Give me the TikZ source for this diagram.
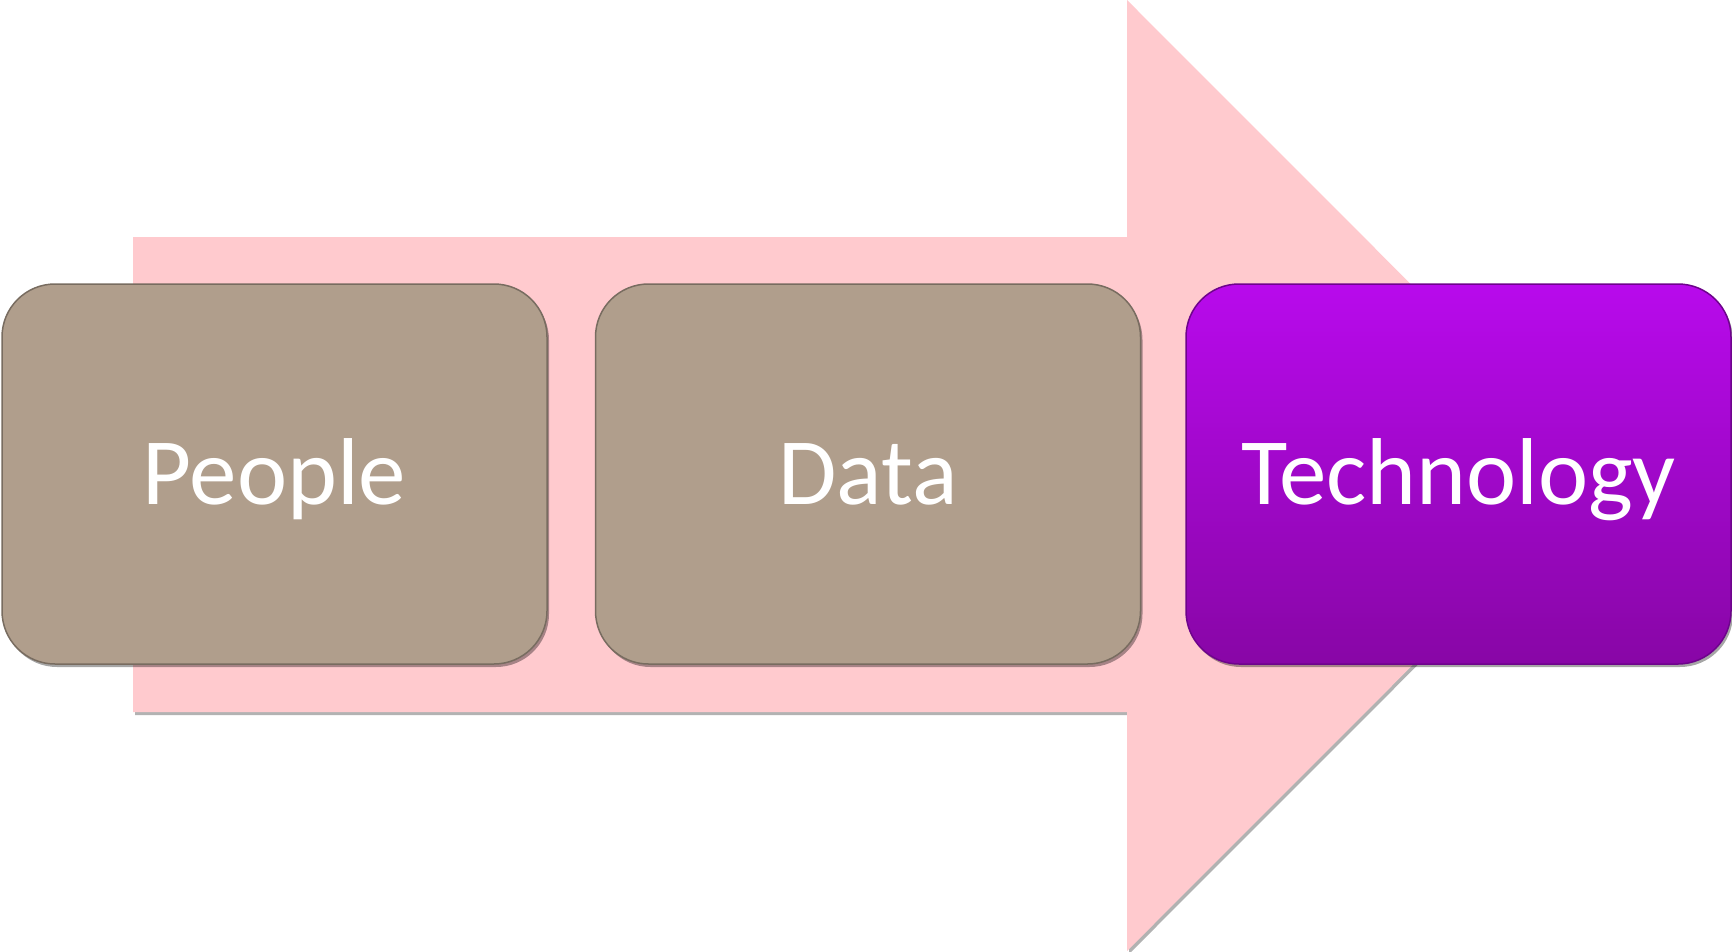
\documentclass[tikz,border=0pt]{standalone}
\usepackage{fontspec}
\setmainfont{Carlito}
\usetikzlibrary{shadows}
\definecolor{arrowpink}{RGB}{255,202,206}
\definecolor{taupe}{RGB}{176,158,140}
\definecolor{taupeedge}{RGB}{120,108,96}
\definecolor{purtop}{RGB}{184,10,236}
\definecolor{purbot}{RGB}{136,6,166}
\definecolor{puredge}{RGB}{110,4,140}
\tikzset{
  stagebox/.style={rounded corners=53pt, minimum width=545pt, minimum height=380pt,
    inner sep=0pt, text=white, font=\fontsize{95}{110}\selectfont,
    text height=60pt, text depth=0pt, line width=1.5pt,
    drop shadow={shadow xshift=2pt, shadow yshift=-3pt, opacity=0.35, fill=black}},
  taupebox/.style={stagebox, fill=taupe, draw=taupeedge},
  purplebox/.style={stagebox, top color=purtop, bottom color=purbot, draw=puredge},
  bigarrow/.style={fill=arrowpink,
    drop shadow={shadow xshift=2pt, shadow yshift=-3pt, opacity=0.3, fill=black}}
}
\begin{document}
\begin{tikzpicture}[x=1pt,y=-1pt]
\useasboundingbox (0,0) rectangle (1732,951);
\path[bigarrow] (133,237) -- (1127,237) -- (1127,0) -- (1602,475.5) -- (1127,951)
  -- (1127,712) -- (133,712) -- cycle;
\node[taupebox] (people) at (274.5,474) {People};
\node[taupebox] (data) at (868,474) {Data};
\node[purplebox] (tech) at (1458.5,474) {Technology};
\end{tikzpicture}
\end{document}
